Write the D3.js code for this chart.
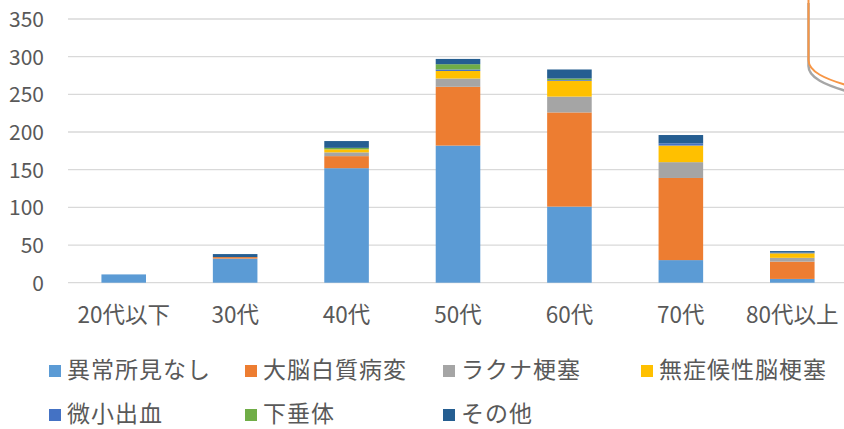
<!DOCTYPE html>
<html>
<head>
<meta charset="utf-8">
<script src="https://cdn.jsdelivr.net/npm/d3@7"></script>
<style>
  html, body { margin: 0; padding: 0; background: #fff; }
  svg { display: block; }
  text { font-family: "Noto Sans CJK JP", "Noto Sans", sans-serif; fill: #595959; }
</style>
</head>
<body>
<svg id="chart" width="844" height="429"></svg>
<script>
const categories = ["20代以下", "30代", "40代", "50代", "60代", "70代", "80代以上"];
const seriesNames = ["異常所見なし", "大脳白質病変", "ラクナ梗塞", "無症候性脳梗塞", "微小出血", "下垂体", "その他"];
const seriesColors = ["#5B9BD5", "#ED7D31", "#A5A5A5", "#FFC000", "#4472C4", "#70AD47", "#255E91"];
const normal     = [11, 32, 152, 182, 101, 30, 5];
const whiteMatter = [0, 2, 16, 78, 125, 109, 23];
const lacunar    = [0, 0, 5, 11, 21, 21, 5];
const silentInfarct = [0, 0, 4, 10, 21, 22, 6];
const microbleed = [0, 0, 0, 2, 1, 3, 1];
const pituitary  = [0, 0, 2, 7, 2, 0, 0];
const other      = [0, 4, 9, 7, 12, 11, 2];
const yTicks = [0, 50, 100, 150, 200, 250, 300, 350];

const seriesValues = [normal, whiteMatter, lacunar, silentInfarct, microbleed, pituitary, other];
const rows = categories.map((c, i) => {
  const r = { cat: c };
  seriesNames.forEach((s, k) => r[s] = seriesValues[k][i]);
  return r;
});

const svg = d3.select("#chart");
const x = d3.scaleBand().domain(categories).range([68, 848]).paddingInner(0.6).paddingOuter(0.3);
const y = d3.scaleLinear().domain([0, 350]).range([282.7, 19]);

// gridlines
svg.append("g").selectAll("line").data(yTicks).join("line")
  .attr("x1", 68).attr("x2", 844)
  .attr("y1", d => y(d)).attr("y2", d => y(d))
  .attr("stroke", "#D9D9D9").attr("stroke-width", 1.3);

// y axis labels
const yAxis = d3.axisLeft(y).tickValues(yTicks).tickSize(0).tickPadding(0);
const ya = svg.append("g").attr("transform", "translate(44,0)").call(yAxis);
ya.select(".domain").remove();
ya.selectAll("text").attr("font-size", 21).style("fill", "#595959")
  .attr("font-family", "'Noto Sans CJK JP', sans-serif").attr("dy", "0.36em");

// x axis labels
const xAxis = d3.axisBottom(x).tickSize(0).tickPadding(0);
const xa = svg.append("g").attr("transform", "translate(0,315)").call(xAxis);
xa.select(".domain").remove();
xa.selectAll("text").attr("font-size", 22.5).style("fill", "#595959")
  .attr("font-family", "'Noto Sans CJK JP', sans-serif").attr("dy", "0.36em");

// stacked bars
const stack = d3.stack().keys(seriesNames)(rows);
svg.append("g").selectAll("g").data(stack).join("g")
  .attr("fill", (d, i) => seriesColors[i])
  .selectAll("rect").data(d => d).join("rect")
  .attr("x", d => x(d.data.cat))
  .attr("width", x.bandwidth())
  .attr("y", d => y(d[1]))
  .attr("height", d => y(d[0]) - y(d[1]));

// legend
const legendPos = [
  [49, 370], [245, 370], [443, 370], [641, 370],
  [49, 414], [245, 414], [443, 414]
];
const lg = svg.append("g").selectAll("g").data(seriesNames).join("g")
  .attr("transform", (d, i) => `translate(${legendPos[i][0]},${legendPos[i][1]})`);
lg.append("rect").attr("x", 0).attr("y", -5).attr("width", 12).attr("height", 12)
  .attr("fill", (d, i) => seriesColors[i]);
lg.append("text").attr("x", 18).attr("y", 0).attr("dy", "0.35em")
  .attr("font-size", 23).attr("letter-spacing", 1).text(d => d);

// partial callout shape at top right (decoration)
svg.append("path").attr("d", "M808.5,0 L808.5,63 C808.5,75 826,82 846,88")
  .attr("fill", "none").attr("stroke", "#A6A6A6").attr("stroke-width", 2.5)
  .attr("transform", "translate(0,3)");
svg.append("path").attr("d", "M808.5,0 L808.5,60 C808.5,72 826,79 846,85")
  .attr("fill", "none").attr("stroke", "#F79646").attr("stroke-width", 2);
</script>
</body>
</html>
